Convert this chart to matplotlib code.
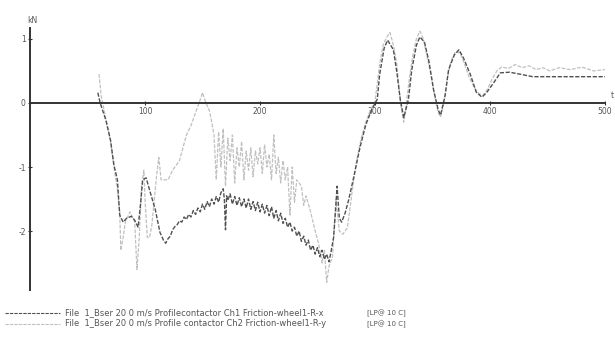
import matplotlib
matplotlib.use("Agg")
import matplotlib.pyplot as plt
from matplotlib.lines import Line2D

# Ch1 Friction-wheel1-R-x (dark trace)
ch1_x = [59, 61, 66, 70, 73, 76, 78, 81, 84, 88, 91, 94, 96, 98, 101, 104, 109, 113, 116, 118,
         120, 122, 124, 126, 128, 130, 132, 134, 136, 138, 140, 142, 144, 146, 148, 150, 152, 154,
         156, 158, 160, 162, 164, 166, 168, 169, 170, 171, 172, 174, 176, 178, 180, 182, 184, 186,
         188, 190, 192, 194, 196, 198, 200, 202, 204, 206, 208, 210, 212, 214, 216, 218, 220, 222,
         224, 226, 228, 230, 232, 234, 236, 238, 240, 242, 244, 246, 248, 250, 252, 254, 256, 258,
         260, 262, 264, 266, 267, 269, 271, 274, 277, 281, 287, 292, 297, 302, 304, 308, 311, 316,
         319, 322, 325, 329, 332, 336, 339, 343, 347, 351, 355, 357, 361, 364, 369, 373, 377, 383,
         388, 393, 397, 403, 409, 417, 426, 437, 461, 500]
ch1_y = [0.16, 0.0, -0.27, -0.58, -0.97, -1.2, -1.75, -1.86, -1.8, -1.77, -1.83, -1.94, -1.6,
         -1.2, -1.17, -1.36, -1.67, -2.02, -2.14, -2.19, -2.12, -2.08, -1.98, -1.93, -1.90, -1.84,
         -1.86, -1.78, -1.82, -1.74, -1.78, -1.68, -1.74, -1.64, -1.70, -1.58, -1.66, -1.54, -1.62,
         -1.50, -1.58, -1.46, -1.55, -1.40, -1.34, -1.50, -1.98, -1.45, -1.52, -1.42, -1.58, -1.46,
         -1.60, -1.48, -1.62, -1.50, -1.64, -1.50, -1.66, -1.54, -1.68, -1.55, -1.70, -1.58, -1.72,
         -1.60, -1.76, -1.62, -1.80, -1.68, -1.84, -1.72, -1.88, -1.80, -1.94, -1.86, -2.00, -1.94,
         -2.08, -2.00, -2.16, -2.08, -2.22, -2.14, -2.30, -2.22, -2.36, -2.26, -2.40, -2.30, -2.44,
         -2.36, -2.48, -2.30, -2.10, -1.60, -1.30, -1.80, -1.86, -1.72, -1.52, -1.2, -0.69, -0.34,
         -0.11, 0.06, 0.44, 0.86, 0.98, 0.83, 0.48, 0.05, -0.23, 0.05, 0.52, 0.9, 1.03, 0.95, 0.64,
         0.2, -0.11, -0.19, 0.12, 0.52, 0.75, 0.83, 0.7, 0.44, 0.17, 0.09, 0.16, 0.31, 0.47, 0.48,
         0.45, 0.41, 0.41, 0.41]

# Ch2 Friction-wheel1-R-y (light trace)
ch2_x = [60, 62, 66, 70, 73, 76, 78, 79, 81, 83, 87, 91, 93, 95, 97, 99, 100, 102, 104, 106,
         110, 112, 114, 120, 124, 130, 136, 140, 144, 148, 150, 153, 156, 158, 160, 162, 164, 166,
         168, 170, 172, 174, 176, 178, 180, 182, 184, 186, 188, 190, 192, 194, 196, 198, 200, 202,
         204, 206, 208, 210, 212, 214, 216, 218, 220, 222, 224, 226, 228, 230, 232, 236, 238, 240,
         244, 248, 251, 254, 256, 258, 260, 263, 266, 269, 272, 276, 280, 284, 288, 292, 296, 300,
         304, 307, 310, 313, 316, 319, 321, 323, 325, 327, 330, 333, 336, 339, 342, 345, 349, 352,
         355, 357, 360, 363, 366, 370, 374, 378, 382, 386, 390, 394, 398, 402, 406, 410, 416, 422,
         428, 434, 440, 446, 452, 460, 470, 480, 490, 500]
ch2_y = [0.45, 0.1, -0.25, -0.6, -1.0, -1.35, -1.7, -2.3, -2.1, -1.85, -1.7, -1.85, -2.6, -2.1,
         -1.3, -1.05, -1.5, -2.1, -2.1, -1.9, -1.15, -0.85, -1.2, -1.2, -1.05, -0.9, -0.5, -0.35,
         -0.15, 0.05, 0.16, 0.0, -0.12, -0.3, -0.5, -1.2, -0.45, -1.0, -0.4, -1.3, -0.55, -0.9,
         -0.5, -1.25, -0.7, -1.0, -0.6, -1.2, -0.75, -1.05, -0.7, -1.15, -0.75, -0.95, -0.7, -1.1,
         -0.65, -1.0, -0.8, -1.2, -0.5, -1.1, -0.85, -1.25, -0.9, -1.2, -1.0, -1.75, -1.0, -1.55,
         -1.2, -1.3, -1.6, -1.45, -1.7, -2.0, -2.2, -2.5, -2.3, -2.8, -2.55, -2.4, -1.5, -2.0,
         -2.05, -1.95, -1.4, -0.9, -0.55, -0.3, -0.12, 0.02, 0.6, 0.9, 1.02, 1.1, 0.9, 0.6, 0.2,
         -0.1, -0.3, -0.05, 0.4, 0.75, 1.0, 1.12, 1.0, 0.75, 0.4, 0.1, -0.15, -0.22, 0.0, 0.4,
         0.65, 0.8, 0.78, 0.6, 0.4, 0.25, 0.15, 0.12, 0.22, 0.38, 0.5, 0.56, 0.54, 0.6, 0.55,
         0.58, 0.52, 0.55, 0.5, 0.55, 0.52, 0.56, 0.5, 0.52]

x_ticks = [100, 200, 300, 400, 500]
y_ticks = [1, 0, -1, -2]
labels = ["File  1_Bser 20 0 m/s Profilecontactor Ch1 Friction-wheel1-R-x",
          "File  1_Bser 20 0 m/s Profile contactor Ch2 Friction-wheel1-R-y"]
filter_tag = "[LP@ 10 C]"

dark = "#505050"
light = "#c0c0c0"
txt = "#555555"

fig = plt.figure(figsize=(6.15, 3.37), dpi=100)
ax = fig.add_axes([30 / 615, 47 / 337, 575 / 615, 262 / 337])

ax.plot(ch2_x, ch2_y, color=light, lw=0.9, dashes=(3, 1.2))
ax.plot(ch1_x, ch1_y, color=dark, lw=1.0, dashes=(3, 1.2))

ax.set_xlim(0, 500)
ax.set_ylim(-2.92, 1.17)
for s in ("top", "right"):
    ax.spines[s].set_visible(False)
ax.spines["bottom"].set_position(("data", 0))
for s in ("left", "bottom"):
    ax.spines[s].set_color("#333333")
    ax.spines[s].set_linewidth(1.4)

ax.set_xticks(x_ticks)
ax.set_xticklabels([str(v) for v in x_ticks])
ax.set_yticks(y_ticks)
ax.set_yticklabels(["1", "0", "-1", "-2"])
ax.tick_params(axis="both", direction="inout", length=3, width=0.8, color="#333333",
               labelsize=5.5, labelcolor=txt, pad=1.5)

ax.text(-2, 1.22, "kN", fontsize=5.5, color=txt, ha="left", va="bottom", clip_on=False)
ax.text(505, 0.05, "t", fontsize=5.5, color=txt, ha="left", va="bottom", clip_on=False)

# legend block under the plot
for i, (lab, col) in enumerate(zip(labels, [dark, light])):
    yy = 1 - (313 + 11 * i) / 337
    fig.add_artist(Line2D([5 / 615, 60 / 615], [yy, yy], transform=fig.transFigure,
                          color=col, lw=0.8, dashes=(3, 1)))
    fig.text(65 / 615, yy, lab, fontsize=6, color=txt, va="center", ha="left")
    fig.text(367 / 615, yy, filter_tag, fontsize=5, color=txt, va="center", ha="left")

fig.savefig("out.png", dpi=100)
